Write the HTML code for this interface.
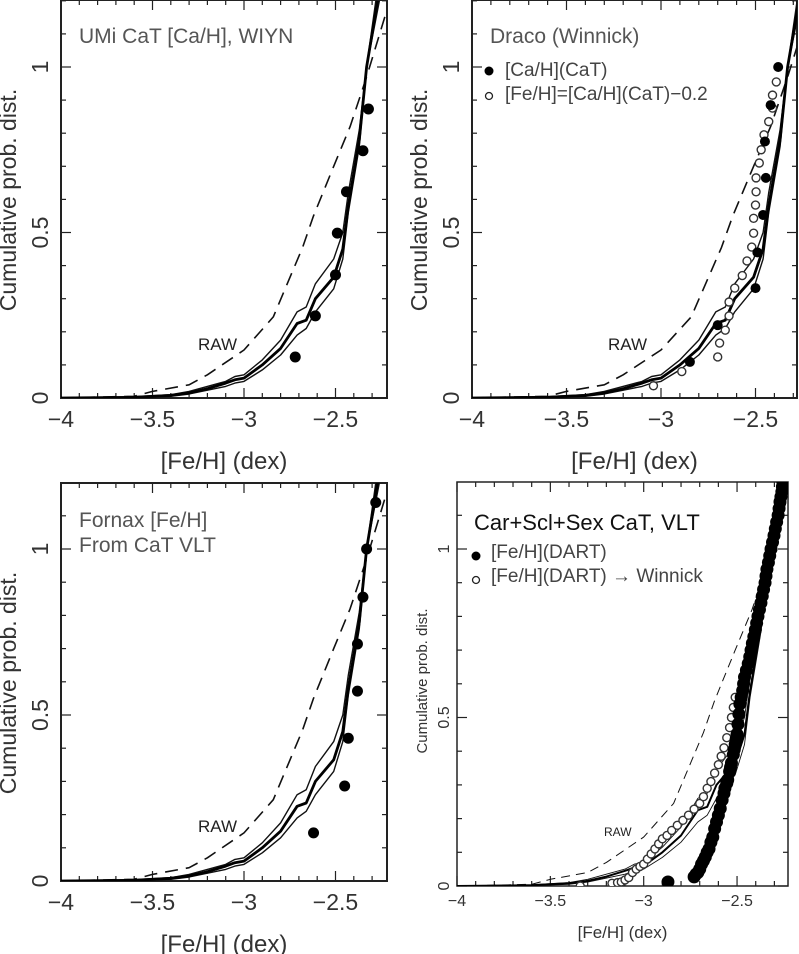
<!DOCTYPE html>
<html><head><meta charset="utf-8">
<style>
html,body{margin:0;padding:0;background:#fff;}
svg{display:block;font-family:"Liberation Sans",sans-serif;}
</style></head>
<body>
<svg id="chart" width="799" height="954" viewBox="0 0 799 954" xmlns="http://www.w3.org/2000/svg"></svg>
<script>
// ---- data ----
const modelMid = [[-4,0],[-3.6,0.002],[-3.4,0.008],[-3.3,0.015],[-3.2,0.028],[-3.1,0.045],[-3.05,0.055],[-3.0,0.06],[-2.9,0.1],[-2.8,0.15],[-2.71,0.225],[-2.66,0.235],[-2.61,0.3],[-2.51,0.365],[-2.46,0.45],[-2.43,0.58],[-2.37,0.78],[-2.33,1.0],[-2.27,1.2]];
const modelUpper = [[-4,0],[-3.6,0.004],[-3.4,0.01],[-3.3,0.02],[-3.1,0.05],[-3.05,0.065],[-3.0,0.07],[-2.9,0.115],[-2.8,0.175],[-2.71,0.26],[-2.66,0.275],[-2.61,0.345],[-2.51,0.42],[-2.46,0.5],[-2.43,0.62],[-2.37,0.81],[-2.33,1.0],[-2.28,1.2]];
const modelLower = [[-4,0],[-3.6,0.001],[-3.4,0.005],[-3.3,0.012],[-3.1,0.035],[-3.05,0.045],[-3.0,0.05],[-2.9,0.085],[-2.8,0.13],[-2.71,0.19],[-2.66,0.21],[-2.61,0.26],[-2.51,0.33],[-2.46,0.42],[-2.43,0.56],[-2.37,0.76],[-2.33,1.0],[-2.26,1.2]];
const modelRaw = [[-4,0],[-3.6,0.005],[-3.5,0.02],[-3.3,0.04],[-3.2,0.07],[-3.0,0.145],[-2.84,0.245],[-2.68,0.455],[-2.62,0.55],[-2.51,0.70],[-2.42,0.82],[-2.33,0.97],[-2.22,1.17]];

const umiX = [-2.72,-2.61,-2.50,-2.49,-2.44,-2.35,-2.32];
const umiY = [0.124,0.248,0.372,0.498,0.623,0.747,0.873];

const dracoFillX = [-2.847,-2.70,-2.50,-2.49,-2.46,-2.445,-2.45,-2.42,-2.38];
const dracoFillY = [0.109,0.22,0.332,0.44,0.553,0.665,0.775,0.885,1.0];
const dracoOpenX = [-3.04,-2.89,-2.70,-2.69,-2.66,-2.64,-2.64,-2.61,-2.57,-2.545,-2.52,-2.51,-2.51,-2.50,-2.497,-2.497,-2.48,-2.47,-2.455,-2.43,-2.41,-2.41,-2.39];
const dracoOpenY = [0.037,0.08,0.124,0.166,0.205,0.248,0.29,0.332,0.37,0.414,0.456,0.498,0.543,0.583,0.623,0.665,0.71,0.75,0.795,0.835,0.876,0.915,0.955];

const fornaxX = [-2.62,-2.45,-2.43,-2.38,-2.38,-2.35,-2.33,-2.28];
const fornaxY = [0.145,0.286,0.43,0.572,0.714,0.855,1.0,1.14];

const dartFill = [[-2.87,0.012],[-2.73,0.027],[-2.72,0.035],[-2.71,0.04],[-2.70,0.05],[-2.69,0.065],[-2.68,0.075],[-2.67,0.086],[-2.66,0.1],[-2.65,0.11],[-2.64,0.13],[-2.63,0.145],[-2.62,0.17],[-2.61,0.19],[-2.60,0.21],[-2.59,0.23],[-2.58,0.255],[-2.57,0.275],[-2.565,0.29],[-2.555,0.305],[-2.55,0.315],[-2.54,0.34],[-2.535,0.352],[-2.53,0.365],[-2.52,0.39],[-2.515,0.405],[-2.51,0.42],[-2.505,0.435],[-2.50,0.45],[-2.495,0.48],[-2.49,0.51],[-2.485,0.54],[-2.478,0.56],[-2.47,0.58],[-2.465,0.60],[-2.46,0.62],[-2.45,0.64],[-2.44,0.66],[-2.432,0.68],[-2.425,0.70],[-2.418,0.72],[-2.41,0.74],[-2.402,0.76],[-2.395,0.78],[-2.388,0.80],[-2.38,0.82],[-2.372,0.84],[-2.365,0.86],[-2.358,0.88],[-2.35,0.90],[-2.345,0.92],[-2.34,0.94],[-2.332,0.96],[-2.325,0.98],[-2.318,1.0],[-2.31,1.02],[-2.302,1.04],[-2.295,1.06],[-2.288,1.08],[-2.28,1.10],[-2.275,1.12],[-2.27,1.14],[-2.265,1.155],[-2.26,1.17],[-2.257,1.185],[-2.255,1.2]];
const dartOpen = [[-3.34,0.0],[-3.17,0.008],[-3.14,0.01],[-3.12,0.012],[-3.10,0.018],[-3.08,0.025],[-3.06,0.04],[-3.04,0.05],[-3.02,0.058],[-3.0,0.065],[-2.98,0.08],[-2.96,0.095],[-2.94,0.11],[-2.92,0.125],[-2.9,0.14],[-2.875,0.15],[-2.85,0.165],[-2.82,0.18],[-2.79,0.195],[-2.76,0.21],[-2.73,0.228],[-2.70,0.245],[-2.68,0.265],[-2.66,0.29],[-2.64,0.31],[-2.62,0.335],[-2.60,0.36],[-2.585,0.385],[-2.57,0.41],[-2.555,0.44],[-2.54,0.47],[-2.53,0.5],[-2.52,0.53],[-2.51,0.56]];

const xTickLabels = ["-4","-3.5","-3","-2.5"];
const xTickValues = [-4,-3.5,-3,-2.5];
const yTickLabels = ["0","0.5","1"];
const yTickValues = [0,0.5,1];

// ---- drawing ----
const NS = "http://www.w3.org/2000/svg";
const svg = document.getElementById('chart');
function mk(tag, attrs, parent){
  const e = document.createElementNS(NS, tag);
  for (const k in attrs) e.setAttribute(k, attrs[k]);
  (parent||svg).appendChild(e);
  return e;
}

const panels = [
  {id:'umi', L:61, R:387, T:0, B:398, x0:-4, pxPerDex:183, y1px:67, small:false},
  {id:'draco', L:472, R:797, T:0, B:398, x0:-4, pxPerDex:189, y1px:67, small:false},
  {id:'fornax', L:61, R:387, T:483, B:881, x0:-4, pxPerDex:183, y1px:549, small:false},
  {id:'dart', L:457, R:788, T:482, B:886, x0:-4, pxPerDex:186.7, y1px:549, small:true}
];

panels.forEach((p, pi) => {
  const sx = v => p.L + (v - p.x0) * p.pxPerDex;
  const sy = v => p.B - v * (p.B - p.y1px);
  const g = mk('g', {});
  
  
  const clip = mk('clipPath', {id:'clip'+pi}, g);
  mk('rect', {x:p.L, y:p.T, width:p.R-p.L, height:p.B-p.T}, clip);

  const frame = mk('rect', {x:p.L, y:p.T, width:p.R-p.L, height:p.B-p.T, fill:'none', stroke:'#222', 'stroke-width':p.small?1.5:2}, g);
  
  

  const tg = mk('g', {stroke:'#222', 'stroke-width':1.2}, g);
  
  
  for (let i = 0; i <= 30; i++) {
    const v = -4 + i * 0.1;
    const x = sx(v);
    if (x > p.R) break;
    const major = i % 5 === 0;
    const len = major ? 10 : 5;
    mk('line', {x1:x, y1:p.B, x2:x, y2:p.B-len}, tg);
    mk('line', {x1:x, y1:p.T, x2:x, y2:p.T+len}, tg);
  }
  for (let i = 0; i <= 12; i++) {
    const v = i * 0.1;
    const y = sy(v);
    if (y < p.T) break;
    const major = i % 5 === 0;
    const len = major ? 10 : 5;
    mk('line', {x1:p.L, y1:y, x2:p.L+len, y2:y}, tg);
    mk('line', {x1:p.R, y1:y, x2:p.R-len, y2:y}, tg);
  }

  const fs = p.small ? 16 : 23;
  xTickValues.forEach((v, i) => {
    const t = mk('text', {x:sx(v), y:p.B + (p.small?20:29), 'text-anchor':'middle', 'font-size':fs, fill:'#333'}, g);
    t.textContent = xTickLabels[i].replace('-', '\u2212');
    
    
  });
  yTickValues.forEach((v, i) => {
    const lx = p.L - (p.small?8:13), ly = sy(v);
    const t = mk('text', {x:lx, y:ly, 'text-anchor':'middle', 'font-size':fs, fill:'#333', transform:`rotate(-90 ${lx} ${ly})`}, g);
    t.textContent = yTickLabels[i];
    
    
  });
  const xt = mk('text', {x:(p.L+p.R)/2, y:p.B + (p.small?52:71), 'text-anchor':'middle', 'font-size':p.small?17:24, fill:'#333'}, g);
  xt.textContent = '[Fe/H] (dex)';
  
  
  const ytx = p.small ? p.L - 30 : p.L - 45, yty = p.small ? 681 : 200 + p.T;
  const yt = mk('text', {x:ytx, y:yty, 'text-anchor':'middle', 'font-size':p.small?15:23, fill:'#333', transform:`rotate(-90 ${ytx} ${yty})`}, g);
  yt.textContent = 'Cumulative prob. dist.';
  
  

  const cg = mk('g', {'clip-path':`url(#clip${pi})`, fill:'none', 'stroke-linejoin':'round'}, g);
  const path = arr => arr.map((d,i)=>(i?'L':'M')+sx(d[0]).toFixed(1)+' '+sy(d[1]).toFixed(1)).join(' ');
  const raw = mk('path', {d:path(modelRaw), stroke:'#111', 'stroke-width':p.small?1:1.6, 'stroke-dasharray':p.small?'9 6':'13 8'}, cg);
  
  
  const up = mk('path', {d:path(modelUpper), stroke:'#111', 'stroke-width':p.small?0.9:1.4}, cg);
  
  
  const lo = mk('path', {d:path(modelLower), stroke:'#111', 'stroke-width':p.small?0.9:1.4}, cg);
  
  
  const mid = mk('path', {d:path(modelMid), stroke:'#000', 'stroke-width':p.small?2:2.8}, cg);
  
  

  const pg = mk('g', {'clip-path':`url(#clip${pi})`}, g);
  
  
  const dot = (x, y, r, name) => {
    const c = mk('circle', {cx:sx(x), cy:sy(y), r:r, fill:'#000'}, pg);
    
    
  };
  const ring = (x, y, r, name) => {
    const c = mk('circle', {cx:sx(x), cy:sy(y), r:r, fill:'#fff', stroke:'#333', 'stroke-width':1.4}, pg);
    
    
  };
  const rawLabel = (x, y, size) => {
    const t = mk('text', {x:x, y:y, 'font-size':size, fill:'#222'}, g);
    t.textContent = 'RAW';
    
    
  };
  const label = (txt, x, y, size, color, name) => {
    const t = mk('text', {x:x, y:y, 'font-size':size, fill:color}, g);
    t.textContent = txt;
    
    
    return t;
  };

  if (p.id === 'umi') {
    umiX.forEach((x,i)=>dot(x, umiY[i], 5.5, 'umi-point'));
    rawLabel(198, 350, 17);
    label('UMi CaT [Ca/H], WIYN', 79, 43, 21, '#555', 'umi-panel-title');
  } else if (p.id === 'draco') {
    dracoOpenX.forEach((x,i)=>ring(x, dracoOpenY[i], 4, 'draco-fe-point'));
    dracoFillX.forEach((x,i)=>dot(x, dracoFillY[i], 5, 'draco-ca-point'));
    rawLabel(608, 350, 17);
    label('Draco (Winnick)', 490, 43, 21, '#555', 'draco-panel-title');
    mk('circle', {cx:489, cy:71, r:4.5, fill:'#000'}, g);
    mk('circle', {cx:489, cy:96, r:3.5, fill:'#fff', stroke:'#222', 'stroke-width':1.3}, g);
    label('[Ca/H](CaT)', 505, 76, 19, '#444', 'draco-legend-filled');
    label('[Fe/H]=[Ca/H](CaT)\u22120.2', 505, 100, 19, '#444', 'draco-legend-open');
  } else if (p.id === 'fornax') {
    fornaxX.forEach((x,i)=>dot(x, fornaxY[i], 5.5, 'fornax-point'));
    rawLabel(198, 832, 17);
    label('Fornax [Fe/H]', 79, 527, 21, '#555', 'fornax-panel-title');
    label('From CaT VLT', 79, 552, 21, '#555', 'fornax-panel-subtitle');
  } else {
    dartOpen.forEach(d=>ring(d[0], d[1], 4, 'dart-winnick-point'));
    dartFill.forEach(d=>dot(d[0], d[1], 6.5, 'dart-point'));
    rawLabel(604, 836, 12);
    label('Car+Scl+Sex CaT, VLT', 474, 530, 22, '#111', 'dart-panel-title');
    mk('circle', {cx:476, cy:556, r:4.5, fill:'#000'}, g);
    mk('circle', {cx:476, cy:580, r:3.5, fill:'#fff', stroke:'#222', 'stroke-width':1.3}, g);
    label('[Fe/H](DART)', 491, 558, 19, '#444', 'dart-legend-filled');
    label('[Fe/H](DART) \u2192 Winnick', 491, 582, 19, '#444', 'dart-legend-open');
  }
});
</script>
</body></html>
